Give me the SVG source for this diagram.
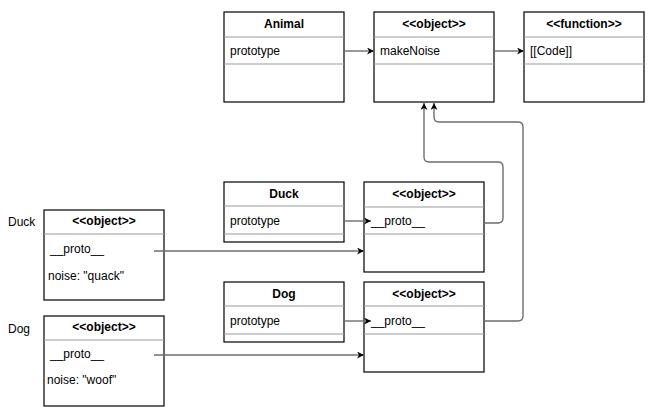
<svg xmlns="http://www.w3.org/2000/svg" width="658" height="420" viewBox="0 0 658 420">
<defs>
<marker id="arr" viewBox="0 0 10 10" refX="10" refY="5" markerWidth="7" markerHeight="7" markerUnits="userSpaceOnUse" orient="auto">
<path d="M0,0 L10,5 L0,10 L3,5 Z" fill="#000"/>
</marker>
<style>
.box{fill:#fff;stroke:#000;stroke-width:1.2}
.div{stroke:#999;stroke-width:1}
.t{font-family:"Liberation Sans",Arial,sans-serif;font-size:12px;fill:#000}
.h{font-family:"Liberation Sans",Arial,sans-serif;font-size:12px;font-weight:bold;fill:#000;text-anchor:middle}
.c{fill:none;stroke:#6e6e6e;stroke-width:1.4;marker-end:url(#arr)}
</style>
</defs>
<rect width="658" height="420" fill="#fff"/>

<g id="animal">
<rect class="box" x="224" y="12" width="120" height="90"/>
<line class="div" x1="224" y1="37" x2="344" y2="37"/>
<line class="div" x1="224" y1="64" x2="344" y2="64"/>
<text class="h" x="284" y="28">Animal</text>
<text class="t" x="230" y="55">prototype</text>
</g>

<g id="animal-proto">
<rect class="box" x="374" y="12" width="120" height="90"/>
<line class="div" x1="374" y1="37" x2="494" y2="37"/>
<line class="div" x1="374" y1="64" x2="494" y2="64"/>
<text class="h" x="434" y="28">&lt;&lt;object&gt;&gt;</text>
<text class="t" x="380" y="55">makeNoise</text>
</g>

<g id="function">
<rect class="box" x="524" y="12" width="120" height="90"/>
<line class="div" x1="524" y1="37" x2="644" y2="37"/>
<line class="div" x1="524" y1="64" x2="644" y2="64"/>
<text class="h" x="584" y="28">&lt;&lt;function&gt;&gt;</text>
<text class="t" x="530" y="55">[[Code]]</text>
</g>

<g id="duck-class">
<rect class="box" x="224" y="182" width="120" height="60"/>
<line class="div" x1="224" y1="206" x2="344" y2="206"/>
<line class="div" x1="224" y1="234" x2="344" y2="234"/>
<text class="h" x="284" y="198">Duck</text>
<text class="t" x="230" y="225">prototype</text>
</g>

<g id="duck-proto">
<rect class="box" x="364" y="182" width="120" height="90"/>
<line class="div" x1="364" y1="207" x2="484" y2="207"/>
<line class="div" x1="364" y1="234" x2="484" y2="234"/>
<text class="h" x="424" y="198">&lt;&lt;object&gt;&gt;</text>
<text class="t" x="371" y="225">__proto__</text>
</g>

<g id="dog-class">
<rect class="box" x="224" y="282" width="120" height="60"/>
<line class="div" x1="224" y1="306" x2="344" y2="306"/>
<line class="div" x1="224" y1="334" x2="344" y2="334"/>
<text class="h" x="284" y="298">Dog</text>
<text class="t" x="230" y="325">prototype</text>
</g>

<g id="dog-proto">
<rect class="box" x="364" y="282" width="120" height="90"/>
<line class="div" x1="364" y1="306" x2="484" y2="306"/>
<line class="div" x1="364" y1="334" x2="484" y2="334"/>
<text class="h" x="424" y="298">&lt;&lt;object&gt;&gt;</text>
<text class="t" x="371" y="325">__proto__</text>
</g>

<g id="duck-instance">
<text class="t" x="8" y="226">Duck</text>
<rect class="box" x="44" y="210" width="120" height="90"/>
<line class="div" x1="44" y1="234" x2="164" y2="234"/>
<text class="h" x="104" y="225">&lt;&lt;object&gt;&gt;</text>
<text class="t" x="50" y="253">__proto__</text>
<text class="t" x="48" y="280">noise: "quack"</text>
</g>

<g id="dog-instance">
<text class="t" x="8" y="333">Dog</text>
<rect class="box" x="44" y="316" width="120" height="90"/>
<line class="div" x1="44" y1="340" x2="164" y2="340"/>
<text class="h" x="104" y="331">&lt;&lt;object&gt;&gt;</text>
<text class="t" x="50" y="358">__proto__</text>
<text class="t" x="47" y="384">noise: "woof"</text>
</g>

<g id="connectors">
<path class="c" d="M344,51 L374,51"/>
<path class="c" d="M494,51 L524,51"/>
<path class="c" d="M344,221 L371,221"/>
<path class="c" d="M344,321 L371,321"/>
<path class="c" d="M154,251 L364,251"/>
<path class="c" d="M154,355 L364,355"/>
<path class="c" d="M484,223 L498,223 Q503,223 503,218 L503,167 Q503,162 498,162 L429,162 Q424,162 424,157 L424,103"/>
<path class="c" d="M484,321 L518,321 Q523,321 523,316 L523,127 Q523,122 518,122 L439,122 Q434,122 434,117 L434,103"/>
</g>
</svg>
